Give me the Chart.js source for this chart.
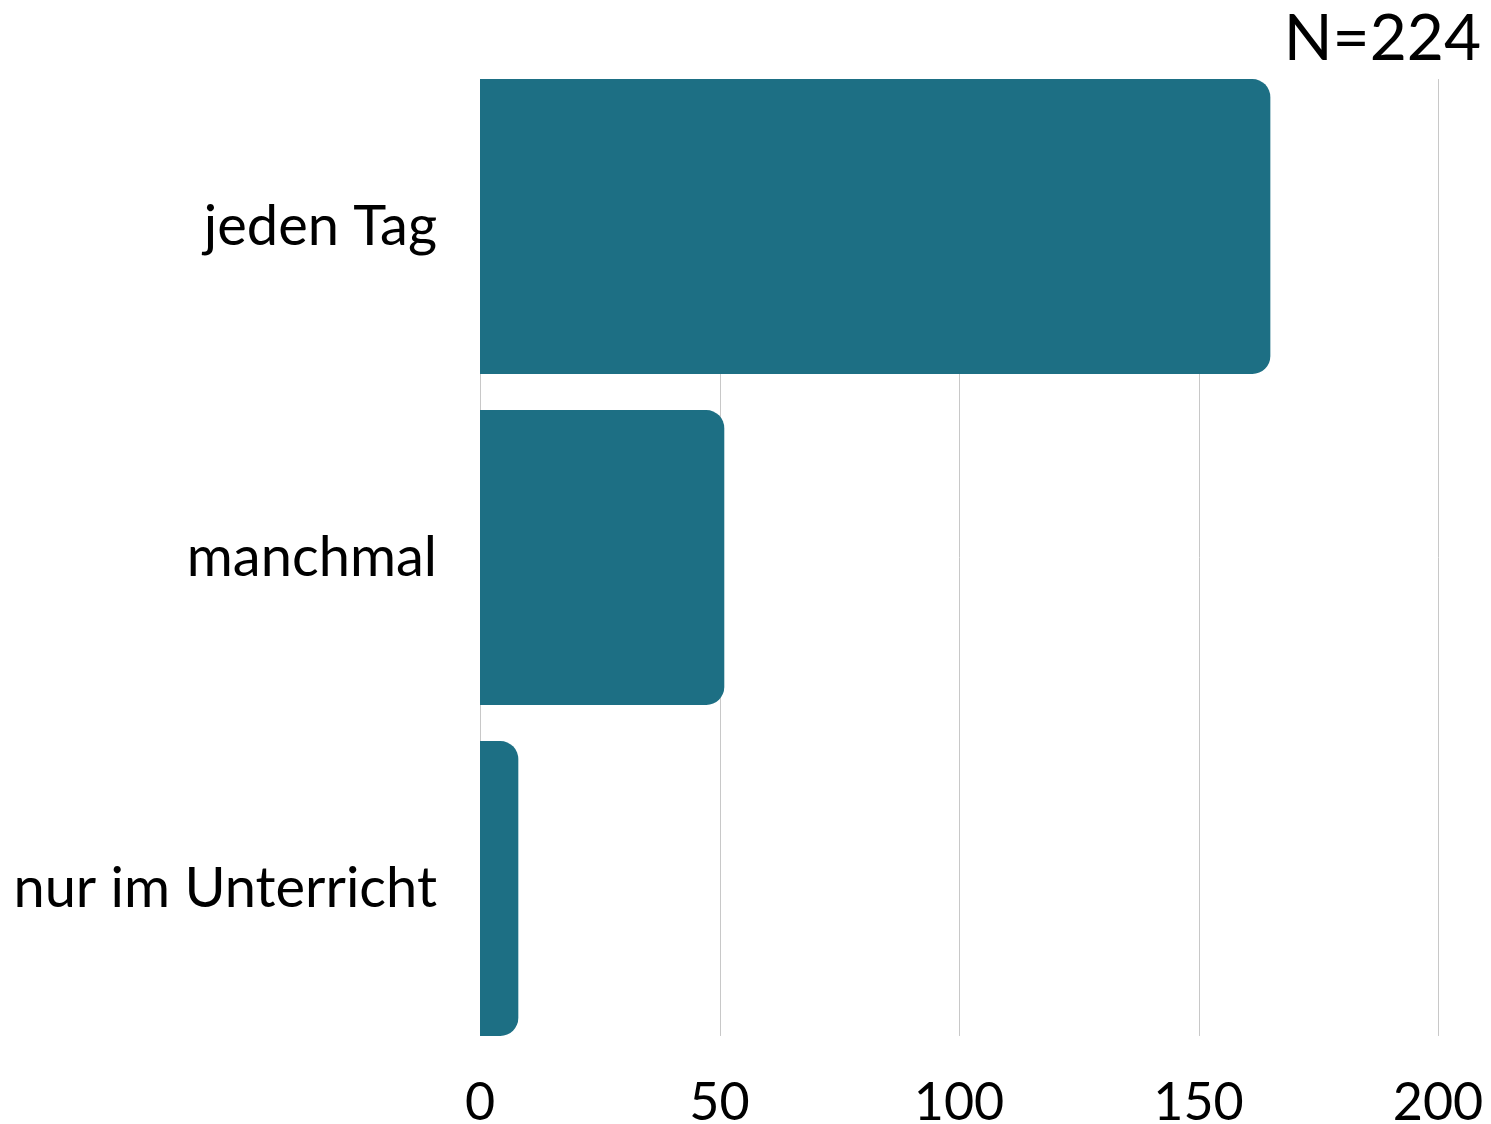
<!DOCTYPE html>
<html>
<head>
<meta charset="utf-8">
<script src="https://cdn.jsdelivr.net/npm/chart.js@4"></script>
<style>
  html, body { margin: 0; padding: 0; background: #fff; }
  #wrap { width: 1491px; height: 1124px; }
</style>
</head>
<body>
<div id="wrap"><canvas id="frequencyChart"></canvas></div>
<script>
// Wie oft? (N=224)
const categories = ["jeden Tag", "manchmal", "nur im Unterricht"];
const counts = [165, 51, 8];
const xTicks = [0, 50, 100, 150, 200];

const fontFamily = "Lato, 'Noto Sans', sans-serif";

// vertical grid lines, only between first bar top and last bar bottom
const barGrid = {
    id: 'barGrid',
    beforeDatasetsDraw(chart) {
        const bars = chart.getDatasetMeta(0).data;
        if (!bars.length) return;
        const top = bars[0].y - bars[0].height / 2;
        const bottom = bars[bars.length - 1].y + bars[bars.length - 1].height / 2;
        const ctx = chart.ctx;
        ctx.save();
        ctx.strokeStyle = '#c8c8c8';
        ctx.lineWidth = 1;
        xTicks.forEach(function(t) {
            const x = Math.round(chart.scales.x.getPixelForValue(t)) + 0.5;
            ctx.beginPath();
            ctx.moveTo(x, top);
            ctx.lineTo(x, bottom);
            ctx.stroke();
        });
        ctx.restore();
    }
};

const ctx = document.getElementById('frequencyChart').getContext('2d');
new Chart(ctx, {
    type: 'bar',
    data: {
        labels: categories,
        datasets: [{
            data: counts,
            backgroundColor: '#1d6f84',
            borderRadius: 18,
            borderSkipped: 'start',
            barPercentage: 0.891,
            categoryPercentage: 1.0
        }]
    },
    options: {
        indexAxis: 'y',
        responsive: true,
        maintainAspectRatio: false,
        animation: false,
        layout: { padding: { top: 0, right: 10, bottom: 0, left: 0 } },
        plugins: {
            legend: { display: false },
            tooltip: { enabled: false },
            title: {
                display: true,
                text: 'N=224',
                align: 'end',
                color: '#000',
                font: { family: fontFamily, size: 64, weight: 'normal', lineHeight: 0.86 },
                padding: { top: 12, bottom: -6 }
            }
        },
        scales: {
            x: {
                min: 0,
                max: 200,
                afterBuildTicks: function(scale) {
                    scale.ticks = xTicks.map(function(v) { return { value: v }; });
                },
                grid: { display: false, drawTicks: false },
                border: { display: false },
                ticks: {
                    color: '#000',
                    padding: 18,
                    maxRotation: 0,
                    font: { family: fontFamily, size: 52 }
                },
                afterFit: function(scale) {
                    scale.height = 70;
                    scale.paddingLeft = 0;
                    scale.paddingRight = 53;
                }
            },
            y: {
                grid: { display: false, drawTicks: false },
                border: { display: false },
                ticks: {
                    color: '#000',
                    padding: 43,
                    font: { family: fontFamily, size: 56 }
                },
                afterFit: function(scale) {
                    scale.width = 480;
                    scale.paddingTop = 0;
                    scale.paddingBottom = 0;
                }
            }
        }
    },
    plugins: [barGrid]
});
</script>
</body>
</html>
